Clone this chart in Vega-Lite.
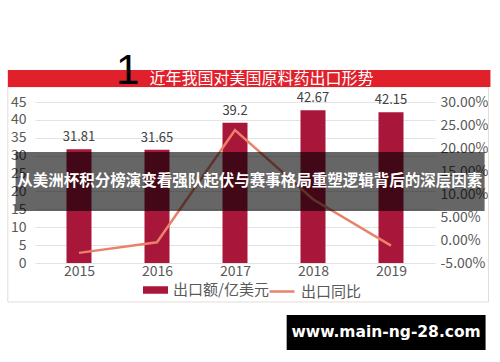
{
  "$schema": "https://vega.github.io/schema/vega-lite/v6.json",
  "width": 400,
  "height": 161,
  "autosize": {"type": "none"},
  "padding": {"left": 35, "top": 102, "right": 65, "bottom": 99},
  "background": "white",
  "config": {
    "font": "Noto Sans CJK SC",
    "view": {"stroke": null},
    "legend": {"labelFont": "Noto Sans CJK SC", "labelFontSize": 15, "labelColor": "#595959", "padding": 0}
  },
  "data": {
    "values": [
      {"year": 2015, "amount": 31.81, "growth": -0.028},
      {"year": 2016, "amount": 31.65, "growth": -0.005},
      {"year": 2017, "amount": 39.2, "growth": 0.239},
      {"year": 2018, "amount": 42.67, "growth": 0.0885},
      {"year": 2019, "amount": 42.15, "growth": -0.0122}
    ]
  },
  "encoding": {
    "x": {
      "field": "year",
      "type": "quantitative",
      "scale": {"domain": [2014.5, 2019.5], "nice": false, "zero": false},
      "axis": {"values": [2015, 2016, 2017, 2018, 2019], "format": "d", "title": null, "grid": false, "ticks": false, "domain": false, "labelFontSize": 14, "labelColor": "#595959", "labelPadding": 1, "labelOverlap": false, "zindex": 0}
    }
  },
  "layer": [
    {
      "encoding": {
        "y": {
          "field": "amount",
          "type": "quantitative",
          "scale": {"domain": [0, 45], "nice": false},
          "axis": {"orient": "left", "values": [0, 5, 10, 15, 20, 25, 30, 35, 40, 45], "title": null, "grid": true, "gridColor": "#E3E3E3", "ticks": false, "domain": false, "labelFontSize": 14, "labelColor": "#595959", "labelPadding": 9, "labelOverlap": false, "zindex": 0}
        }
      },
      "layer": [
        {
          "mark": {"type": "bar", "width": 25},
          "encoding": {
            "fill": {
              "datum": "出口额/亿美元",
              "type": "nominal",
              "scale": {"range": ["#A8163A"]},
              "legend": {"title": null, "orient": "none", "legendX": 108, "legendY": 175.5, "symbolType": "M-1,-0.3H1V0.3H-1Z", "symbolSize": 625, "symbolStrokeWidth": 0, "labelOffset": 5}
            }
          }
        },
        {
          "mark": {"type": "text", "baseline": "bottom", "dy": -5, "fontSize": 13, "color": "#404040"},
          "encoding": {
            "text": {"field": "amount", "type": "nominal"}
          }
        }
      ]
    },
    {
      "mark": {"type": "line", "strokeWidth": 2.5},
      "encoding": {
        "y": {
          "field": "growth",
          "type": "quantitative",
          "scale": {"domain": [-0.05, 0.3], "nice": false, "zero": false},
          "axis": {"orient": "right", "values": [-0.05, 0, 0.05, 0.1, 0.15, 0.2, 0.25, 0.3], "labelExpr": "replace(format(datum.value, '.2%'), '\u2212', '-')", "title": null, "grid": false, "ticks": false, "domain": false, "labelFontSize": 14, "labelColor": "#595959", "labelPadding": 5, "labelOverlap": false, "zindex": 0}
        },
        "stroke": {
          "datum": "出口同比",
          "type": "nominal",
          "scale": {"range": ["#E8826A"]},
          "legend": {"title": null, "orient": "none", "legendX": 233, "legendY": 175.5, "symbolType": "stroke", "symbolSize": 625, "symbolStrokeWidth": 2.5, "labelOffset": 5}
        }
      }
    },
    {
      "transform": [{"filter": "datum.year == 2015"}],
      "layer": [
        {
          "mark": {"type": "rect", "fill": "transparent", "stroke": "#E5DDD6", "strokeWidth": 1},
          "encoding": {
            "x": {"datum": 2014.0875, "type": "quantitative"},
            "x2": {"datum": 2020.25},
            "y": {"datum": 49.19, "type": "quantitative", "scale": {"domain": [0, 45], "nice": false}, "axis": null},
            "y2": {"datum": -10.9}
          }
        },
        {
          "mark": {"type": "rect", "color": "#E0202B"},
          "encoding": {
            "x": {"datum": 2014.0875, "type": "quantitative"},
            "x2": {"datum": 2020.275},
            "y": {"datum": 53.94, "type": "quantitative"},
            "y2": {"datum": 49.19}
          }
        },
        {
          "mark": {"type": "text", "text": "近年我国对美国原料药出口形势", "color": "white", "fontSize": 16, "baseline": "middle", "align": "center"},
          "encoding": {
            "x": {"datum": 2017.34, "type": "quantitative"},
            "y": {"datum": 51.56, "type": "quantitative"}
          }
        },
        {
          "mark": {"type": "text", "text": "1", "color": "black", "font": "Liberation Sans", "fontSize": 42, "baseline": "alphabetic", "align": "center"},
          "encoding": {
            "x": {"datum": 2015.625, "type": "quantitative"},
            "y": {"datum": 50.03, "type": "quantitative"}
          }
        },
        {
          "mark": {"type": "rect", "color": "black", "opacity": 0.6},
          "encoding": {
            "x": {"datum": 2014.1875, "type": "quantitative"},
            "x2": {"datum": 2020.2},
            "y": {"datum": 31.02, "type": "quantitative"},
            "y2": {"datum": 14.53}
          }
        },
        {
          "mark": {"type": "text", "text": "从美洲杯积分榜演变看强队起伏与赛事格局重塑逻辑背后的深层因素", "color": "white", "fontSize": 15.5, "fontWeight": "bold", "baseline": "middle", "align": "center"},
          "encoding": {
            "x": {"datum": 2017.1875, "type": "quantitative"},
            "y": {"datum": 22.92, "type": "quantitative"}
          }
        },
        {
          "mark": {"type": "rect", "color": "black"},
          "encoding": {
            "x": {"datum": 2017.6625, "type": "quantitative"},
            "x2": {"datum": 2020.2125},
            "y": {"datum": -14.53, "type": "quantitative"},
            "y2": {"datum": -24.31}
          }
        },
        {
          "mark": {"type": "text", "text": "www.main-ng-28.com", "color": "white", "font": "DejaVu Sans", "fontSize": 15.5, "fontWeight": "bold", "baseline": "middle", "align": "center"},
          "encoding": {
            "x": {"datum": 2018.9375, "type": "quantitative"},
            "y": {"datum": -19.42, "type": "quantitative"}
          }
        }
      ]
    }
  ],
  "resolve": {"scale": {"y": "independent"}}
}
